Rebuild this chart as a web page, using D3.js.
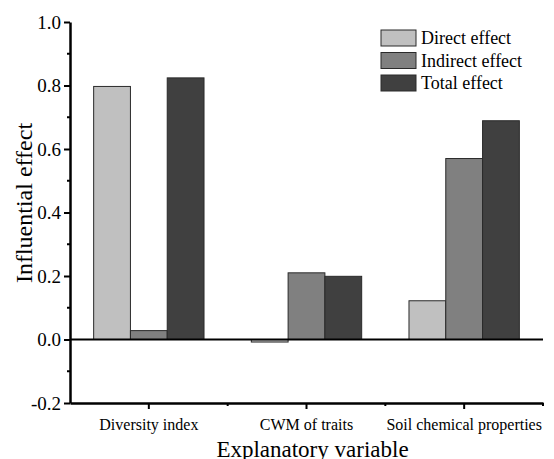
<html>
<head>
<meta charset="utf-8">
<style>
body { margin: 0; background: #fff; }
text { font-family: "Liberation Serif", "Times New Roman", serif; fill: #000; }
</style>
</head>
<body>
<svg width="554" height="459" id="container"></svg>
<script src="https://cdn.jsdelivr.net/npm/d3@7"></script>
<script>
// data
var categories = ["Diversity index", "CWM of traits", "Soil chemical properties"];
var seriesNames = ["Direct effect", "Indirect effect", "Total effect"];
var direct = [0.797, -0.008, 0.122];
var indirect = [0.028, 0.21, 0.57];
var total = [0.824, 0.199, 0.689];
var yTicks = [-0.2, 0.0, 0.2, 0.4, 0.6, 0.8, 1.0];
var colors = ["#c0c0c0", "#808080", "#404040"];

var series = [direct, indirect, total];

var svg = d3.select("#container");
var plotL = 70, plotR = 543, plotT = 22, plotB = 403;

var x = d3.scaleBand().domain(categories).range([plotL, plotR]).paddingInner(0).paddingOuter(0);
var inner = d3.scaleBand().domain(d3.range(series.length)).range([0, x.bandwidth() * 0.7]);
var y = d3.scaleLinear().domain([-0.2, 1.0]).range([plotB, plotT]);

// bars
var groups = svg.selectAll(".grp")
  .data(categories)
  .enter().append("g")
  .attr("class", "grp")
  .attr("transform", function(d) { return "translate(" + (x(d) + x.bandwidth() * 0.15) + ",0)"; });

groups.selectAll("rect")
  .data(function(d, i) { return series.map(function(s, k) { return {k: k, v: s[i]}; }); })
  .enter().append("rect")
  .attr("x", function(d) { return inner(d.k); })
  .attr("width", inner.bandwidth())
  .attr("y", function(d) { return y(Math.max(0, d.v)); })
  .attr("height", function(d) { return Math.abs(y(d.v) - y(0)); })
  .attr("fill", function(d) { return colors[d.k]; })
  .attr("stroke", "#2a2a2a")
  .attr("stroke-width", 1);

// zero line
svg.append("line")
  .attr("x1", plotL).attr("x2", plotR)
  .attr("y1", y(0)).attr("y2", y(0))
  .attr("stroke", "#000").attr("stroke-width", 2);

// y axis
var fmt = function(d) { return d3.format(".1f")(d).replace("\u2212", "-"); };
var yAxis = svg.append("g").attr("transform", "translate(" + plotL + ",0)")
  .call(d3.axisLeft(y).tickValues(yTicks).tickFormat(fmt).tickSize(6).tickSizeOuter(0).tickPadding(3));
yAxis.selectAll("text").attr("font-size", 19).style("font-family", "Liberation Serif");
// minor ticks
var yMinor = yTicks.slice(0, -1).map(function(v) { return v + 0.1; });
yAxis.selectAll(".minor").data(yMinor).enter().append("line")
  .attr("class", "minor")
  .attr("x1", -3).attr("x2", 0)
  .attr("y1", function(d) { return y(d); }).attr("y2", function(d) { return y(d); })
  .attr("stroke", "#000").attr("stroke-width", 2);

// x axis
var xAxis = svg.append("g").attr("transform", "translate(0," + plotB + ")")
  .call(d3.axisBottom(x).tickSize(6).tickPadding(10).tickSizeOuter(0));
xAxis.selectAll("text").attr("font-size", 16).style("font-family", "Liberation Serif");
xAxis.selectAll(".minor").data(categories).enter().append("line")
  .attr("class", "minor")
  .attr("x1", function(d) { return x(d) + x.bandwidth(); })
  .attr("x2", function(d) { return x(d) + x.bandwidth(); })
  .attr("y1", 0).attr("y2", 3)
  .attr("stroke", "#000").attr("stroke-width", 2);

svg.selectAll(".domain").attr("stroke-width", 2.5);
svg.selectAll(".tick line").attr("stroke-width", 2);

// axis titles
svg.append("text")
  .attr("transform", "translate(32,203) rotate(-90)")
  .attr("text-anchor", "middle")
  .attr("font-size", 24)
  .text("Influential effect");

svg.append("text")
  .attr("x", (plotL + plotR) / 2 + 6)
  .attr("y", 457)
  .attr("text-anchor", "middle")
  .attr("font-size", 23)
  .text("Explanatory variable");

// legend
var legend = svg.selectAll(".leg")
  .data(seriesNames)
  .enter().append("g")
  .attr("class", "leg")
  .attr("transform", function(d, i) { return "translate(381," + (30 + i * 22.5) + ")"; });
legend.append("rect")
  .attr("width", 35).attr("height", 16)
  .attr("fill", function(d, i) { return colors[i]; })
  .attr("stroke", "#2a2a2a").attr("stroke-width", 1);
legend.append("text")
  .attr("x", 40).attr("y", 14)
  .attr("font-size", 18)
  .text(function(d) { return d; });
</script>
</body>
</html>
